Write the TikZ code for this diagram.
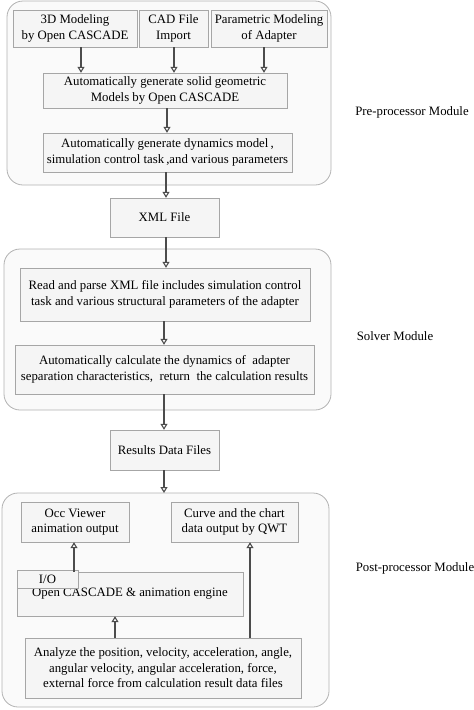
\documentclass[tikz,border=0pt]{standalone}
\usepackage{fontspec}
\setmainfont{Liberation Serif}
\usetikzlibrary{arrows.meta,shadows}
\begin{document}
\begin{tikzpicture}[x=1pt,y=-1pt,
  box/.style={draw=gray!70,fill=gray!8,align=center,inner sep=0pt,
    font=\fontsize{12.8}{15.6}\selectfont,
    drop shadow={shadow xshift=1.2pt,shadow yshift=-1.2pt,fill=gray!45,opacity=0.6}},
  cont/.style={draw=gray!60,fill=gray!4,rounded corners=16pt,line width=0.8pt},
  lbl/.style={font=\fontsize{12.8}{15.6}\selectfont},
  arr/.style={draw=black!70,line width=1.1pt,-{Triangle[open,length=6pt,width=7pt]}}]
\useasboundingbox (0,0) rectangle (474,710);
% containers
\draw[cont] (7,1) rectangle (331,185);
\draw[cont] (4,249) rectangle (331,410);
\draw[cont] (2,493) rectangle (329,707);
% pre-processor
\node[box,minimum width=124,minimum height=37] (b3d) at (75,28.5) {3D Modeling\\by Open CASCADE};
\node[box,minimum width=69,minimum height=37] (bcad) at (173.5,28.5) {CAD File\\Import};
\node[box,minimum width=116,minimum height=37] (bpar) at (269,28.5) {Parametric Modeling\\of Adapter};
\node[box,minimum width=244,minimum height=35] (bsolid) at (165,90.5) {Automatically generate solid geometric\\Models by Open CASCADE};
\node[box,minimum width=249,minimum height=39] (bdyn) at (167.5,152.5) {Automatically generate dynamics model\,,\\simulation control task\,,and various parameters};
\node[box,minimum width=109,minimum height=39] (xml) at (164.5,217.5) {XML File};
% solver
\node[box,minimum width=290,minimum height=53] (bread) at (165,294.5) {Read and parse XML file includes simulation control\\task and various structural parameters of the adapter};
\node[box,minimum width=299,minimum height=49] (bcalc) at (164.5,369.5) {Automatically calculate the dynamics of\ \ adapter\\separation characteristics,\ \ return\ \ the calculation results};
\node[box,minimum width=109,minimum height=40] (res) at (164.5,450) {Results Data Files};
% post
\coordinate (posttop) at (164,493);
\node[box,minimum width=108,minimum height=40] (occ) at (75,522) {Occ Viewer\\animation output};
\node[box,minimum width=127,minimum height=40] (curve) at (234.5,522) {Curve and the chart\\data output by QWT};
\node[box,minimum width=226,minimum height=44] (ocas) at (130,594) {\raisebox{-2pt}{Open CASCADE \& animation engine}};
\node[box,minimum width=61,minimum height=18] (io) at (47.5,579) {I/O};
\node[box,minimum width=276,minimum height=60] (ana) at (163,668) {Analyze the position, velocity, acceleration, angle,\\angular velocity, angular acceleration, force,\\external force from calculation result data files};
% labels
\node[lbl] (lpre) at (412,112) {Pre-processor Module};
\node[lbl] (lsol) at (395,336) {Solver Module};
\node[lbl] (lpost) at (415,568) {Post-processor Module};
% arrows
\draw[arr] ([xshift=6]b3d.south) -- ([xshift=6]b3d.south |- bsolid.north);
\draw[arr] ([xshift=0.5]bcad.south) -- ([xshift=0.5]bcad.south |- bsolid.north);
\draw[arr] ([xshift=-5]bpar.south) -- ([xshift=-5]bpar.south |- bsolid.north);
\draw[arr] (bsolid.south -| 167,0) -- (bdyn.north -| 167,0);
\draw[arr] (bdyn.south -| 166,0) -- (xml.north -| 166,0);
\draw[arr] (xml.south -| 166,0) -- (bread.north -| 166,0);
\draw[arr] (bread.south -| 164,0) -- (bcalc.north -| 164,0);
\draw[arr] (bcalc.south -| 164,0) -- (res.north -| 164,0);
\draw[arr] (res.south -| 164,0) -- (posttop);
\draw[arr] (ocas.north -| 74,0) -- (occ.south -| 74,0);
\draw[arr] (ana.north -| 115,0) -- (ocas.south -| 115,0);
\draw[arr] (ana.north -| 250,0) -- (curve.south -| 250,0);
\end{tikzpicture}
\end{document}
